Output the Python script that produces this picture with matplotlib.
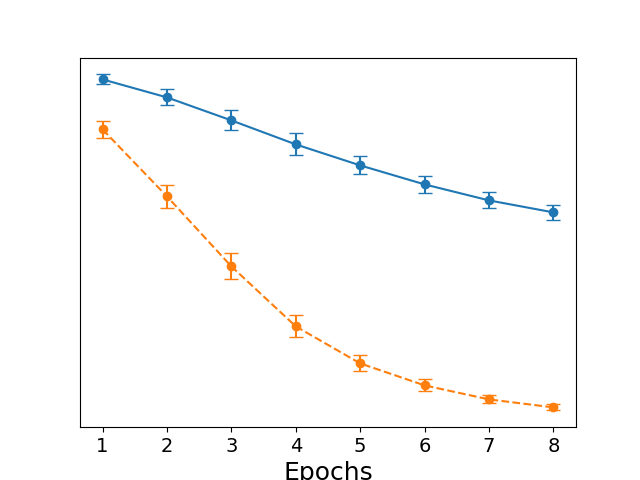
import matplotlib
matplotlib.use("Agg")
import matplotlib.pyplot as plt

epochs = [1, 2, 3, 4, 5, 6, 7, 8]
blue_vals = [3.70, 3.52, 3.29, 3.05, 2.84, 2.65, 2.49, 2.37]
blue_err = [0.05, 0.08, 0.10, 0.11, 0.09, 0.085, 0.08, 0.075]
orange_vals = [3.20, 2.53, 1.83, 1.23, 0.86, 0.64, 0.50, 0.42]
orange_err = [0.085, 0.115, 0.13, 0.11, 0.08, 0.06, 0.04, 0.03]

fig, ax = plt.subplots(figsize=(6.4, 4.8), dpi=100)
ax.errorbar(epochs, blue_vals, yerr=blue_err, fmt='-o', color='#1f77b4', capsize=5)
ax.errorbar(epochs, orange_vals, yerr=orange_err, fmt='--o', color='#ff7f0e', capsize=5)
ax.set_yticks([])
ax.set_xticks(epochs)
ax.tick_params(axis='x', labelsize=14)
ax.set_xlabel("Epochs", fontsize=18)
fig.savefig("out.png")
